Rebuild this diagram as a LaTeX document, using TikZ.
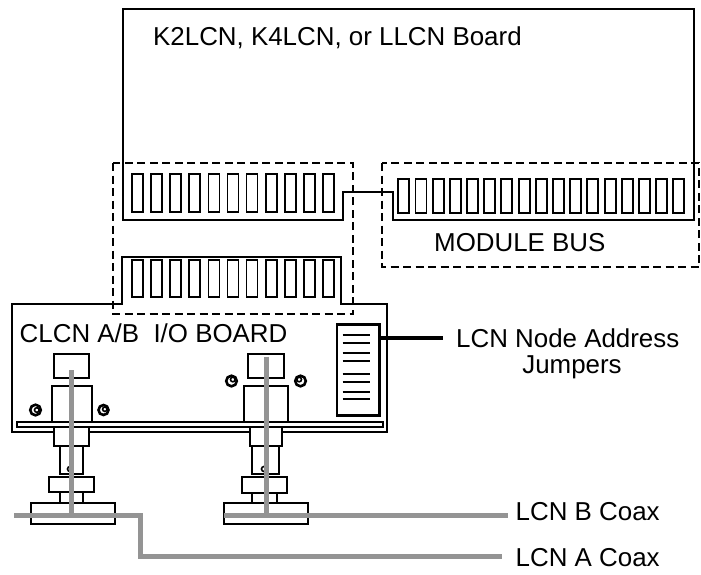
\documentclass[tikz,border=0pt]{standalone}
\usepackage{fontspec}
\setmainfont{Liberation Sans}
\definecolor{coaxgray}{RGB}{148,148,148}
\begin{document}
\begin{tikzpicture}[x=1pt,y=-1pt,
  outline/.style={line width=2.5pt, line join=miter},
  pin/.style={draw, line width=1.9pt, fill=white},
  dashbox/.style={line width=2.4pt, dash pattern=on 8pt off 4.5pt},
  part/.style={draw, line width=2.2pt, fill=white},
  coax/.style={draw=coaxgray, line width=5pt, line join=miter},
  lbl/.style={font=\fontsize{25.9}{26}\selectfont, inner sep=0pt, anchor=base west},
  screw/.style={line width=2.6pt},
  screwin/.style={line width=1.6pt}]
\useasboundingbox (0,0) rectangle (701,574);
% top board
\draw[outline] (123,9) -- (694,9) -- (694,220) -- (393,220) -- (393,192) -- (343,192) -- (343,220) -- (123,220) -- cycle;
\node[lbl] (topl) at (153,45) {K2LCN, K4LCN, or LLCN Board};
\foreach \i in {0,...,10} \draw[pin] ({132.3+\i*19.04},174) rectangle ++(11,37.7);
\foreach \i in {0,...,16} \draw[pin] ({398.3+\i*17.19},179.3) rectangle ++(11,34);
% lower board
\draw[outline] (12,304) -- (122,304) -- (122,257) -- (341,257) -- (341,304) -- (387,304) -- (387,432) -- (12,432) -- cycle;
\foreach \i in {0,...,10} \draw[pin] ({132.3+\i*19.04},260) rectangle ++(11,36.7);
% dashed boxes
\draw[dashbox] (113,163) rectangle (353,314);
\draw[dashbox] (382,163) rectangle (699,267);
\node[lbl] (modbus) at (434,251) {MODULE BUS};
\node[lbl] (iolbl) at (19.5,342) {CLCN A/B\ \ I/O BOARD};
% bar
\draw[line width=1.9pt, fill=white] (17,422) rectangle (383,427);
% jumper block
\node[part, minimum width=42.3pt, minimum height=91pt, inner sep=0pt, anchor=north west] (jblock) at (336,323.3) {};
\foreach \yy in {335,343.3,352.7,361,374,381.7,391.7,399.3} \draw[line width=2.2pt] (342.7,\yy) -- (370,\yy);
\node[lbl] (jlab1) at (456,347) {LCN Node Address};
\node[font=\fontsize{25.9}{26}\selectfont, inner sep=0pt, anchor=base] (jlab2) at (572,373) {Jumpers};
\coordinate (jend) at (443,338);
\draw[line width=4pt] (jblock.east |- jend) -- (jend);
% connector A
\draw[part] (54.3,354) rectangle (89,378.3);
\draw[part] (51.7,385.7) rectangle (91.7,421.7);
\draw[part] (54.3,427) rectangle (89,445.7);
\draw[part] (60,445.7) rectangle (83.3,473.8);
\draw[part] (49.3,476.7) rectangle (94,492.3);
\draw[part] (60,492.3) rectangle (83.3,502.7);
\draw[part] (31,502.7) rectangle (115,524);
\draw[line width=1.6pt] (70,469) circle[radius=2.5pt];
% connector B
\draw[part] (247.7,354) rectangle (284.3,378.3);
\draw[part] (244.3,385.7) rectangle (287.7,421.7);
\draw[part] (250,427) rectangle (281.7,445.7);
\draw[part] (252.3,445.7) rectangle (279.3,473.8);
\draw[part] (242.3,476.7) rectangle (287.3,492.7);
\draw[part] (252.3,492.7) rectangle (276.7,502.7);
\draw[part] (224,502.7) rectangle (308.3,524);
\draw[line width=1.6pt] (264,469) circle[radius=2.5pt];
% screws
\draw[screw] (35.5,410) circle[radius=5.3pt];
\draw[screwin] (36.8,410) circle[radius=2.3pt];
\draw[screw] (103.5,410) circle[radius=5pt];
\draw[screwin] (104.8,409.2) circle[radius=2.2pt];
\draw[screw] (231.5,381) circle[radius=5.3pt];
\draw[screwin] (232.8,379.5) circle[radius=2.3pt];
\draw[screw] (300.5,381) circle[radius=5.3pt];
\draw[screwin] (299.2,379.5) circle[radius=2.3pt];
% coax cables
\node[lbl] (labB) at (515.5,520) {LCN B Coax};
\node[lbl] (labA) at (515.5,566.7) {LCN A Coax};
\coordinate (bEnd) at (508,515);
\coordinate (aEnd) at (501.7,556.7);
\draw[coax] (71.7,370) -- (71.7,515);
\draw[coax] (14,515) -- (140.5,515) -- (140.5,556.7) -- (aEnd);
\draw[coax] (266.7,356.7) -- (266.7,515);
\draw[coax] (224,515) -- (bEnd);
\end{tikzpicture}
\end{document}
